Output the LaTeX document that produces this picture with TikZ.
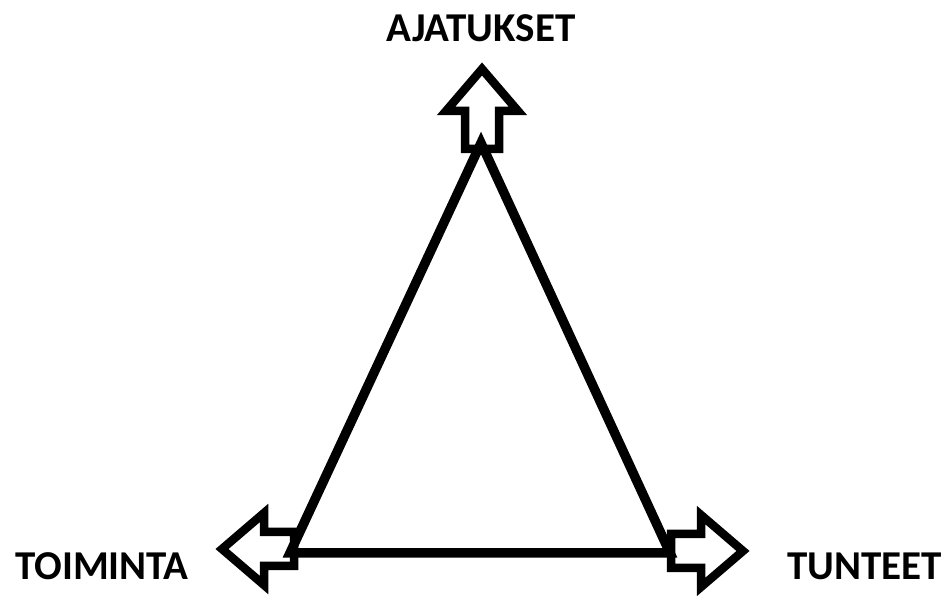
\documentclass[tikz,border=0pt]{standalone}
\usepackage{fontspec}
\setmainfont{Carlito}
\tikzset{
	side/.style   ={line width=9.5pt, line join=miter},
	hollow/.style ={line width=8.5pt, draw=black, fill=white, line join=miter},
	word/.style   ={font=\bfseries\fontsize{41}{41}\selectfont, inner sep=0pt},
}
\begin{document}
\begin{tikzpicture}[x=1pt, y=1pt]
	\useasboundingbox (0,0) rectangle (945,596);
	% corners of the triangle
	\coordinate (top) at (481,453);
	\coordinate (left) at (290,43);
	\coordinate (right) at (670,43);
	% hollow arrows at the corners
	\foreach \px/\py/\ang/\len in {482/447/90/38, 294/47/180/30, 671/45/0/30} {
		\draw[hollow, shift={(\px,\py)}, rotate=\ang]
			(0,-17) -- (\len,-17) -- (\len,-36) -- (\len+42,0) -- (\len,36) -- (\len,17) -- (0,17) -- cycle;
	}
	\draw[side] (top) -- (left) -- (right) -- cycle;
	% labels
	\node[word, anchor=base] (ajatukset) at (481,554) {AJATUKSET};
	\node[word, anchor=base west] (toiminta) at (15,16) {TOIMINTA};
	\node[word, anchor=base east] (tunteet) at (942,16) {TUNTEET};
\end{tikzpicture}
\end{document}
